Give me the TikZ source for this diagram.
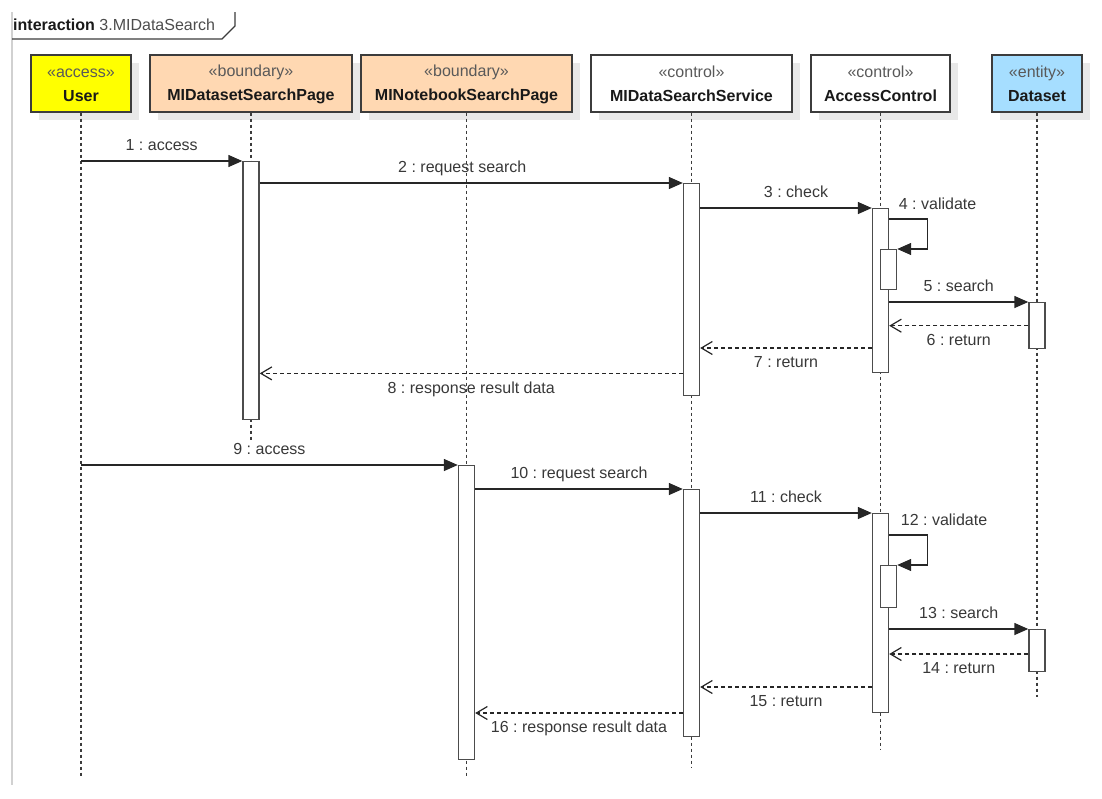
\documentclass[tikz,border=0pt]{standalone}
\usepackage{fontspec}
\setmainfont{Liberation Sans}
\usetikzlibrary{arrows.meta,shadows}
\frenchspacing

\definecolor{accessyellow}{RGB}{255,255,0}
\definecolor{boundarypeach}{RGB}{255,216,178}
\definecolor{entityblue}{RGB}{166,222,255}
\definecolor{linegrey}{RGB}{60,60,60}

\tikzset{
  head/.style={draw=linegrey, line width=1.4pt, minimum height=57pt, inner sep=0pt, align=center,
    font=\fontsize{16}{24}\selectfont,
    drop shadow={shadow xshift=8pt, shadow yshift=-8pt, fill=black!9, opacity=1}},
  lifeline/.style={draw=linegrey, line width=1.3pt, dash pattern=on 3pt off 3pt},
  act/.style={draw=black!70, fill=white, line width=1.4pt, minimum width=16pt, inner sep=0pt, anchor=north},
  msg/.style={draw=black!85, line width=1.4pt, -{Triangle[length=14pt,width=12pt]}},
  ret/.style={draw=black!85, line width=1.3pt, dash pattern=on 4pt off 3pt,
    -{Straight Barb[length=11pt,width=13pt,line width=1.2pt]}},
  lbl/.style={font=\fontsize{16}{19}\selectfont, text=black!78, inner sep=1pt, text height=12pt, text depth=3.5pt}
}
\newcommand{\stereo}[1]{\textcolor{black!65}{\rule{0pt}{14pt}«#1»}}
\newcommand{\lname}[1]{\textcolor{black!90}{\textbf{#1}}\rule[-2pt]{0pt}{2pt}}

\begin{document}
\begin{tikzpicture}[x=1pt, y=-1pt]
    \useasboundingbox (0,0) rectangle (1102,798);

    % frame
    \draw[black!18, line width=2pt] (12,12) -- (12,785);
    \draw[linegrey, line width=1.2pt] (12,39) -- (222,39) -- (235,26) -- (235,12);
    \node[anchor=base west, inner sep=0pt, font=\fontsize{16}{19}\selectfont, text=black!90] (title) at (13,30)
        {\textbf{interaction} \textcolor{black!70}{3.MIDataSearch}};

    % lifeline heads
    \node[head, fill=accessyellow, minimum width=100pt] (user) at (81,83.5) {\stereo{access}\\\lname{User}};
    \node[head, fill=boundarypeach, minimum width=202pt] (dsp) at (251,83.5) {\stereo{boundary}\\\lname{MIDatasetSearchPage}};
    \node[head, fill=boundarypeach, minimum width=211pt] (nsp) at (466.5,83.5) {\stereo{boundary}\\\lname{MINotebookSearchPage}};
    \node[head, fill=white, minimum width=201pt] (svc) at (691.5,83.5) {\stereo{control}\\\lname{MIDataSearchService}};
    \node[head, fill=white, minimum width=139pt] (ac) at (880.5,83.5) {\stereo{control}\\\lname{AccessControl}};
    \node[head, fill=entityblue, minimum width=90pt] (ds) at (1037,83.5) {\stereo{entity}\\\lname{Dataset}};

    % lifelines
    \coordinate (user-end) at (81,778);
    \coordinate (dsp-end) at (251,442);
    \coordinate (nsp-end) at (466.5,778);
    \coordinate (svc-end) at (691.5,768);
    \coordinate (ac-end) at (880.5,750);
    \coordinate (ds-end) at (1037,697);
    \foreach \l in {user,dsp,nsp,svc,ac,ds}
        \draw[lifeline] (\l) -- (\l-end);

    % activations, first search
    \node[act, minimum height=258pt] (a1) at (dsp |- 0,161) {};
    \node[act, minimum height=212pt] (a2) at (svc |- 0,183) {};
    \node[act, minimum height=164pt] (a3) at (ac |- 0,208) {};
    \node[act, minimum height=40pt, xshift=8pt] (a4) at (ac |- 0,249) {};
    \node[act, minimum height=46pt] (a5) at (ds |- 0,302) {};

    % activations, second search
    \node[act, minimum height=294pt] (b1) at (nsp |- 0,465) {};
    \node[act, minimum height=247pt] (b2) at (svc |- 0,489) {};
    \node[act, minimum height=199pt] (b3) at (ac |- 0,513) {};
    \node[act, minimum height=42pt, xshift=8pt] (b4) at (ac |- 0,565) {};
    \node[act, minimum height=42pt] (b5) at (ds |- 0,629) {};

    % messages 1-8
    \draw[msg] (user |- a1.north) -- (a1.north west) node[lbl, midway, above=5pt] {1 : access};
    \draw[msg] (a1.east |- a2.north) -- (a2.north west) node[lbl, midway, above=5pt, xshift=-9pt] {2 : request search};
    \draw[msg] (a2.east |- a3.north) -- (a3.north west) node[lbl, midway, above=5pt, xshift=10pt] {3 : check};
    \draw[msg] (a3.east |- 0,219) node[lbl, anchor=south west, xshift=8pt, yshift=4pt] {4 : validate}
        -- ++(38,0) |- (a4.north east);
    \draw[msg] (a3.east |- a5.north) -- (a5.north west) node[lbl, midway, above=5pt] {5 : search};
    \draw[ret] (a5.west) -- (a3.east |- a5.west) node[lbl, midway, below=6pt] {6 : return};
    \draw[ret] (a3.west |- 0,348) -- (a2.east |- 0,348) node[lbl, midway, below=6pt] {7 : return};
    \draw[ret] (a2.west |- a3.south) -- (a1.east |- a3.south) node[lbl, midway, below=6pt] {8 : response result data};

    % messages 9-16
    \draw[msg] (user |- b1.north) -- (b1.north west) node[lbl, midway, above=5pt] {9 : access};
    \draw[msg] (b1.east |- b2.north) -- (b2.north west) node[lbl, midway, above=5pt] {10 : request search};
    \draw[msg] (b2.east |- b3.north) -- (b3.north west) node[lbl, midway, above=5pt] {11 : check};
    \draw[msg] (b3.east |- 0,535) node[lbl, anchor=south west, xshift=10pt, yshift=4pt] {12 : validate}
        -- ++(38,0) |- (b4.north east);
    \draw[msg] (b3.east |- b5.north) -- (b5.north west) node[lbl, midway, above=5pt] {13 : search};
    \draw[ret] (b5.west |- 0,654) -- (b3.east |- 0,654) node[lbl, midway, below=6pt] {14 : return};
    \draw[ret] (b3.west |- 0,687) -- (b2.east |- 0,687) node[lbl, midway, below=6pt] {15 : return};
    \draw[ret] (b2.west |- 0,713) -- (b1.east |- 0,713) node[lbl, midway, below=6pt] {16 : response result data};
\end{tikzpicture}
\end{document}
